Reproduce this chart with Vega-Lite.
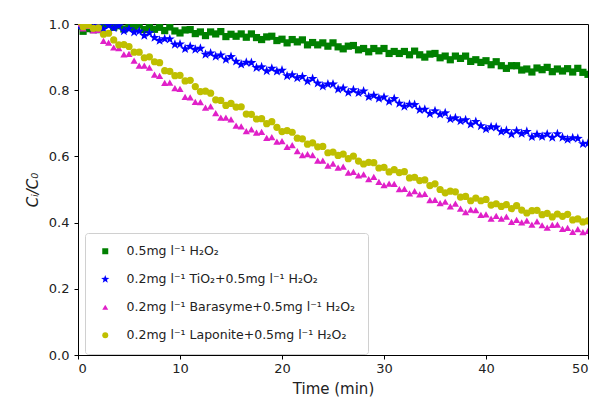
{
"$schema":"https://vega.github.io/schema/vega-lite/v6.json",
"width":510,"height":331,
"autosize":{"type":"none"},
"padding":{"left":78,"top":24,"right":7,"bottom":48},
"background":"white",
"config":{"view":{"stroke":"black","strokeWidth":1},"font":"DejaVu Sans",
"axis":{"grid":false,"domainColor":"black","tickColor":"black","labelColor":"#222","titleColor":"#222","labelFont":"DejaVu Sans","titleFont":"DejaVu Sans","titleFontWeight":"normal","labelFontSize":13,"titleFontSize":15,"tickSize":4},
"legend":{"title":null,"orient":"none","legendX":7,"legendY":209,"padding":12,"rowPadding":15,"symbolSize":36,"symbolOffset":2,"labelOffset":15,"labelFontSize":12.5,"labelFont":"DejaVu Sans","labelColor":"#222","strokeColor":"#d0d0d0","fillColor":"white","cornerRadius":3,"labelLimit":400}},
"data":{"values":[
{"t":0,"c":0.995,"s":"a"},{"t":0.5,"c":0.978,"s":"a"},{"t":1,"c":0.986,"s":"a"},{"t":1.5,"c":0.983,"s":"a"},{"t":2,"c":0.983,"s":"a"},{"t":2.5,"c":0.996,"s":"a"},{"t":3,"c":1.001,"s":"a"},{"t":3.5,"c":0.990,"s":"a"},{"t":4,"c":0.995,"s":"a"},{"t":4.5,"c":0.985,"s":"a"},{"t":5,"c":0.996,"s":"a"},{"t":5.5,"c":0.990,"s":"a"},{"t":6,"c":0.997,"s":"a"},{"t":6.5,"c":0.983,"s":"a"},{"t":7,"c":0.990,"s":"a"},{"t":7.5,"c":0.984,"s":"a"},{"t":8,"c":0.990,"s":"a"},{"t":8.5,"c":0.980,"s":"a"},{"t":9,"c":0.991,"s":"a"},{"t":9.5,"c":0.979,"s":"a"},{"t":10,"c":0.973,"s":"a"},{"t":10.5,"c":0.982,"s":"a"},{"t":11,"c":0.983,"s":"a"},{"t":11.5,"c":0.971,"s":"a"},{"t":12,"c":0.976,"s":"a"},{"t":12.5,"c":0.965,"s":"a"},{"t":13,"c":0.976,"s":"a"},{"t":13.5,"c":0.970,"s":"a"},{"t":14,"c":0.977,"s":"a"},{"t":14.5,"c":0.962,"s":"a"},{"t":15,"c":0.969,"s":"a"},{"t":15.5,"c":0.963,"s":"a"},{"t":16,"c":0.970,"s":"a"},{"t":16.5,"c":0.960,"s":"a"},{"t":17,"c":0.970,"s":"a"},{"t":17.5,"c":0.959,"s":"a"},{"t":18,"c":0.953,"s":"a"},{"t":18.5,"c":0.961,"s":"a"},{"t":19,"c":0.963,"s":"a"},{"t":19.5,"c":0.950,"s":"a"},{"t":20,"c":0.954,"s":"a"},{"t":20.5,"c":0.943,"s":"a"},{"t":21,"c":0.953,"s":"a"},{"t":21.5,"c":0.946,"s":"a"},{"t":22,"c":0.952,"s":"a"},{"t":22.5,"c":0.937,"s":"a"},{"t":23,"c":0.944,"s":"a"},{"t":23.5,"c":0.937,"s":"a"},{"t":24,"c":0.943,"s":"a"},{"t":24.5,"c":0.933,"s":"a"},{"t":25,"c":0.943,"s":"a"},{"t":25.5,"c":0.931,"s":"a"},{"t":26,"c":0.925,"s":"a"},{"t":26.5,"c":0.933,"s":"a"},{"t":27,"c":0.935,"s":"a"},{"t":27.5,"c":0.922,"s":"a"},{"t":28,"c":0.926,"s":"a"},{"t":28.5,"c":0.916,"s":"a"},{"t":29,"c":0.926,"s":"a"},{"t":29.5,"c":0.919,"s":"a"},{"t":30,"c":0.926,"s":"a"},{"t":30.5,"c":0.911,"s":"a"},{"t":31,"c":0.917,"s":"a"},{"t":31.5,"c":0.911,"s":"a"},{"t":32,"c":0.917,"s":"a"},{"t":32.5,"c":0.907,"s":"a"},{"t":33,"c":0.918,"s":"a"},{"t":33.5,"c":0.907,"s":"a"},{"t":34,"c":0.900,"s":"a"},{"t":34.5,"c":0.909,"s":"a"},{"t":35,"c":0.911,"s":"a"},{"t":35.5,"c":0.898,"s":"a"},{"t":36,"c":0.903,"s":"a"},{"t":36.5,"c":0.892,"s":"a"},{"t":37,"c":0.903,"s":"a"},{"t":37.5,"c":0.896,"s":"a"},{"t":38,"c":0.903,"s":"a"},{"t":38.5,"c":0.887,"s":"a"},{"t":39,"c":0.892,"s":"a"},{"t":39.5,"c":0.884,"s":"a"},{"t":40,"c":0.889,"s":"a"},{"t":40.5,"c":0.877,"s":"a"},{"t":41,"c":0.886,"s":"a"},{"t":41.5,"c":0.874,"s":"a"},{"t":42,"c":0.866,"s":"a"},{"t":42.5,"c":0.874,"s":"a"},{"t":43,"c":0.874,"s":"a"},{"t":43.5,"c":0.861,"s":"a"},{"t":44,"c":0.864,"s":"a"},{"t":44.5,"c":0.855,"s":"a"},{"t":45,"c":0.867,"s":"a"},{"t":45.5,"c":0.862,"s":"a"},{"t":46,"c":0.869,"s":"a"},{"t":46.5,"c":0.856,"s":"a"},{"t":47,"c":0.864,"s":"a"},{"t":47.5,"c":0.858,"s":"a"},{"t":48,"c":0.865,"s":"a"},{"t":48.5,"c":0.855,"s":"a"},{"t":49,"c":0.866,"s":"a"},{"t":49.5,"c":0.854,"s":"a"},{"t":50,"c":0.848,"s":"a"},
{"t":0,"c":0.993,"s":"b"},{"t":0.5,"c":1.002,"s":"b"},{"t":1,"c":1.004,"s":"b"},{"t":1.5,"c":0.992,"s":"b"},{"t":2,"c":0.996,"s":"b"},{"t":2.5,"c":0.985,"s":"b"},{"t":3,"c":0.995,"s":"b"},{"t":3.5,"c":0.988,"s":"b"},{"t":4,"c":0.994,"s":"b"},{"t":4.5,"c":0.979,"s":"b"},{"t":5,"c":0.985,"s":"b"},{"t":5.5,"c":0.975,"s":"b"},{"t":6,"c":0.978,"s":"b"},{"t":6.5,"c":0.965,"s":"b"},{"t":7,"c":0.973,"s":"b"},{"t":7.5,"c":0.959,"s":"b"},{"t":8,"c":0.950,"s":"b"},{"t":8.5,"c":0.955,"s":"b"},{"t":9,"c":0.954,"s":"b"},{"t":9.5,"c":0.938,"s":"b"},{"t":10,"c":0.939,"s":"b"},{"t":10.5,"c":0.925,"s":"b"},{"t":11,"c":0.932,"s":"b"},{"t":11.5,"c":0.923,"s":"b"},{"t":12,"c":0.926,"s":"b"},{"t":12.5,"c":0.908,"s":"b"},{"t":13,"c":0.912,"s":"b"},{"t":13.5,"c":0.902,"s":"b"},{"t":14,"c":0.906,"s":"b"},{"t":14.5,"c":0.893,"s":"b"},{"t":15,"c":0.901,"s":"b"},{"t":15.5,"c":0.887,"s":"b"},{"t":16,"c":0.878,"s":"b"},{"t":16.5,"c":0.884,"s":"b"},{"t":17,"c":0.883,"s":"b"},{"t":17.5,"c":0.868,"s":"b"},{"t":18,"c":0.870,"s":"b"},{"t":18.5,"c":0.858,"s":"b"},{"t":19,"c":0.866,"s":"b"},{"t":19.5,"c":0.857,"s":"b"},{"t":20,"c":0.860,"s":"b"},{"t":20.5,"c":0.843,"s":"b"},{"t":21,"c":0.846,"s":"b"},{"t":21.5,"c":0.837,"s":"b"},{"t":22,"c":0.841,"s":"b"},{"t":22.5,"c":0.827,"s":"b"},{"t":23,"c":0.835,"s":"b"},{"t":23.5,"c":0.821,"s":"b"},{"t":24,"c":0.812,"s":"b"},{"t":24.5,"c":0.818,"s":"b"},{"t":25,"c":0.818,"s":"b"},{"t":25.5,"c":0.803,"s":"b"},{"t":26,"c":0.806,"s":"b"},{"t":26.5,"c":0.793,"s":"b"},{"t":27,"c":0.801,"s":"b"},{"t":27.5,"c":0.792,"s":"b"},{"t":28,"c":0.797,"s":"b"},{"t":28.5,"c":0.780,"s":"b"},{"t":29,"c":0.784,"s":"b"},{"t":29.5,"c":0.775,"s":"b"},{"t":30,"c":0.779,"s":"b"},{"t":30.5,"c":0.766,"s":"b"},{"t":31,"c":0.774,"s":"b"},{"t":31.5,"c":0.760,"s":"b"},{"t":32,"c":0.751,"s":"b"},{"t":32.5,"c":0.757,"s":"b"},{"t":33,"c":0.756,"s":"b"},{"t":33.5,"c":0.741,"s":"b"},{"t":34,"c":0.742,"s":"b"},{"t":34.5,"c":0.729,"s":"b"},{"t":35,"c":0.737,"s":"b"},{"t":35.5,"c":0.727,"s":"b"},{"t":36,"c":0.731,"s":"b"},{"t":36.5,"c":0.713,"s":"b"},{"t":37,"c":0.716,"s":"b"},{"t":37.5,"c":0.707,"s":"b"},{"t":38,"c":0.710,"s":"b"},{"t":38.5,"c":0.697,"s":"b"},{"t":39,"c":0.705,"s":"b"},{"t":39.5,"c":0.692,"s":"b"},{"t":40,"c":0.683,"s":"b"},{"t":40.5,"c":0.689,"s":"b"},{"t":41,"c":0.688,"s":"b"},{"t":41.5,"c":0.675,"s":"b"},{"t":42,"c":0.678,"s":"b"},{"t":42.5,"c":0.667,"s":"b"},{"t":43,"c":0.677,"s":"b"},{"t":43.5,"c":0.669,"s":"b"},{"t":44,"c":0.675,"s":"b"},{"t":44.5,"c":0.659,"s":"b"},{"t":45,"c":0.666,"s":"b"},{"t":45.5,"c":0.660,"s":"b"},{"t":46,"c":0.667,"s":"b"},{"t":46.5,"c":0.657,"s":"b"},{"t":47,"c":0.668,"s":"b"},{"t":47.5,"c":0.657,"s":"b"},{"t":48,"c":0.651,"s":"b"},{"t":48.5,"c":0.656,"s":"b"},{"t":49,"c":0.654,"s":"b"},{"t":49.5,"c":0.638,"s":"b"},{"t":50,"c":0.639,"s":"b"},
{"t":0,"c":1.001,"s":"c"},{"t":0.5,"c":0.987,"s":"c"},{"t":1,"c":0.994,"s":"c"},{"t":1.5,"c":0.981,"s":"c"},{"t":2,"c":0.982,"s":"c"},{"t":2.5,"c":0.949,"s":"c"},{"t":3,"c":0.944,"s":"c"},{"t":3.5,"c":0.929,"s":"c"},{"t":4,"c":0.927,"s":"c"},{"t":4.5,"c":0.908,"s":"c"},{"t":5,"c":0.910,"s":"c"},{"t":5.5,"c":0.889,"s":"c"},{"t":6,"c":0.874,"s":"c"},{"t":6.5,"c":0.874,"s":"c"},{"t":7,"c":0.868,"s":"c"},{"t":7.5,"c":0.847,"s":"c"},{"t":8,"c":0.843,"s":"c"},{"t":8.5,"c":0.822,"s":"c"},{"t":9,"c":0.823,"s":"c"},{"t":9.5,"c":0.806,"s":"c"},{"t":10,"c":0.804,"s":"c"},{"t":10.5,"c":0.780,"s":"c"},{"t":11,"c":0.778,"s":"c"},{"t":11.5,"c":0.765,"s":"c"},{"t":12,"c":0.764,"s":"c"},{"t":12.5,"c":0.747,"s":"c"},{"t":13,"c":0.751,"s":"c"},{"t":13.5,"c":0.731,"s":"c"},{"t":14,"c":0.717,"s":"c"},{"t":14.5,"c":0.717,"s":"c"},{"t":15,"c":0.712,"s":"c"},{"t":15.5,"c":0.693,"s":"c"},{"t":16,"c":0.691,"s":"c"},{"t":16.5,"c":0.676,"s":"c"},{"t":17,"c":0.682,"s":"c"},{"t":17.5,"c":0.672,"s":"c"},{"t":18,"c":0.674,"s":"c"},{"t":18.5,"c":0.656,"s":"c"},{"t":19,"c":0.658,"s":"c"},{"t":19.5,"c":0.645,"s":"c"},{"t":20,"c":0.646,"s":"c"},{"t":20.5,"c":0.629,"s":"c"},{"t":21,"c":0.634,"s":"c"},{"t":21.5,"c":0.616,"s":"c"},{"t":22,"c":0.604,"s":"c"},{"t":22.5,"c":0.607,"s":"c"},{"t":23,"c":0.604,"s":"c"},{"t":23.5,"c":0.587,"s":"c"},{"t":24,"c":0.587,"s":"c"},{"t":24.5,"c":0.572,"s":"c"},{"t":25,"c":0.578,"s":"c"},{"t":25.5,"c":0.566,"s":"c"},{"t":26,"c":0.569,"s":"c"},{"t":26.5,"c":0.551,"s":"c"},{"t":27,"c":0.553,"s":"c"},{"t":27.5,"c":0.543,"s":"c"},{"t":28,"c":0.546,"s":"c"},{"t":28.5,"c":0.531,"s":"c"},{"t":29,"c":0.538,"s":"c"},{"t":29.5,"c":0.523,"s":"c"},{"t":30,"c":0.513,"s":"c"},{"t":30.5,"c":0.518,"s":"c"},{"t":31,"c":0.517,"s":"c"},{"t":31.5,"c":0.501,"s":"c"},{"t":32,"c":0.502,"s":"c"},{"t":32.5,"c":0.488,"s":"c"},{"t":33,"c":0.495,"s":"c"},{"t":33.5,"c":0.485,"s":"c"},{"t":34,"c":0.487,"s":"c"},{"t":34.5,"c":0.468,"s":"c"},{"t":35,"c":0.469,"s":"c"},{"t":35.5,"c":0.459,"s":"c"},{"t":36,"c":0.463,"s":"c"},{"t":36.5,"c":0.449,"s":"c"},{"t":37,"c":0.457,"s":"c"},{"t":37.5,"c":0.442,"s":"c"},{"t":38,"c":0.432,"s":"c"},{"t":38.5,"c":0.439,"s":"c"},{"t":39,"c":0.438,"s":"c"},{"t":39.5,"c":0.423,"s":"c"},{"t":40,"c":0.425,"s":"c"},{"t":40.5,"c":0.412,"s":"c"},{"t":41,"c":0.420,"s":"c"},{"t":41.5,"c":0.412,"s":"c"},{"t":42,"c":0.418,"s":"c"},{"t":42.5,"c":0.402,"s":"c"},{"t":43,"c":0.408,"s":"c"},{"t":43.5,"c":0.401,"s":"c"},{"t":44,"c":0.406,"s":"c"},{"t":44.5,"c":0.394,"s":"c"},{"t":45,"c":0.404,"s":"c"},{"t":45.5,"c":0.392,"s":"c"},{"t":46,"c":0.385,"s":"c"},{"t":46.5,"c":0.393,"s":"c"},{"t":47,"c":0.394,"s":"c"},{"t":47.5,"c":0.381,"s":"c"},{"t":48,"c":0.384,"s":"c"},{"t":48.5,"c":0.372,"s":"c"},{"t":49,"c":0.380,"s":"c"},{"t":49.5,"c":0.371,"s":"c"},{"t":50,"c":0.375,"s":"c"},
{"t":0,"c":1.007,"s":"d"},{"t":0.5,"c":0.992,"s":"d"},{"t":1,"c":0.997,"s":"d"},{"t":1.5,"c":0.987,"s":"d"},{"t":2,"c":0.988,"s":"d"},{"t":2.5,"c":0.969,"s":"d"},{"t":3,"c":0.972,"s":"d"},{"t":3.5,"c":0.952,"s":"d"},{"t":4,"c":0.937,"s":"d"},{"t":4.5,"c":0.938,"s":"d"},{"t":5,"c":0.932,"s":"d"},{"t":5.5,"c":0.915,"s":"d"},{"t":6,"c":0.915,"s":"d"},{"t":6.5,"c":0.898,"s":"d"},{"t":7,"c":0.901,"s":"d"},{"t":7.5,"c":0.886,"s":"d"},{"t":8,"c":0.883,"s":"d"},{"t":8.5,"c":0.859,"s":"d"},{"t":9,"c":0.857,"s":"d"},{"t":9.5,"c":0.844,"s":"d"},{"t":10,"c":0.845,"s":"d"},{"t":10.5,"c":0.828,"s":"d"},{"t":11,"c":0.830,"s":"d"},{"t":11.5,"c":0.811,"s":"d"},{"t":12,"c":0.796,"s":"d"},{"t":12.5,"c":0.797,"s":"d"},{"t":13,"c":0.791,"s":"d"},{"t":13.5,"c":0.771,"s":"d"},{"t":14,"c":0.769,"s":"d"},{"t":14.5,"c":0.754,"s":"d"},{"t":15,"c":0.760,"s":"d"},{"t":15.5,"c":0.749,"s":"d"},{"t":16,"c":0.750,"s":"d"},{"t":16.5,"c":0.728,"s":"d"},{"t":17,"c":0.727,"s":"d"},{"t":17.5,"c":0.713,"s":"d"},{"t":18,"c":0.714,"s":"d"},{"t":18.5,"c":0.699,"s":"d"},{"t":19,"c":0.705,"s":"d"},{"t":19.5,"c":0.688,"s":"d"},{"t":20,"c":0.675,"s":"d"},{"t":20.5,"c":0.678,"s":"d"},{"t":21,"c":0.673,"s":"d"},{"t":21.5,"c":0.655,"s":"d"},{"t":22,"c":0.653,"s":"d"},{"t":22.5,"c":0.637,"s":"d"},{"t":23,"c":0.641,"s":"d"},{"t":23.5,"c":0.629,"s":"d"},{"t":24,"c":0.630,"s":"d"},{"t":24.5,"c":0.611,"s":"d"},{"t":25,"c":0.613,"s":"d"},{"t":25.5,"c":0.603,"s":"d"},{"t":26,"c":0.607,"s":"d"},{"t":26.5,"c":0.593,"s":"d"},{"t":27,"c":0.601,"s":"d"},{"t":27.5,"c":0.586,"s":"d"},{"t":28,"c":0.577,"s":"d"},{"t":28.5,"c":0.582,"s":"d"},{"t":29,"c":0.581,"s":"d"},{"t":29.5,"c":0.565,"s":"d"},{"t":30,"c":0.567,"s":"d"},{"t":30.5,"c":0.553,"s":"d"},{"t":31,"c":0.560,"s":"d"},{"t":31.5,"c":0.551,"s":"d"},{"t":32,"c":0.554,"s":"d"},{"t":32.5,"c":0.535,"s":"d"},{"t":33,"c":0.537,"s":"d"},{"t":33.5,"c":0.527,"s":"d"},{"t":34,"c":0.529,"s":"d"},{"t":34.5,"c":0.512,"s":"d"},{"t":35,"c":0.517,"s":"d"},{"t":35.5,"c":0.500,"s":"d"},{"t":36,"c":0.490,"s":"d"},{"t":36.5,"c":0.495,"s":"d"},{"t":37,"c":0.493,"s":"d"},{"t":37.5,"c":0.477,"s":"d"},{"t":38,"c":0.479,"s":"d"},{"t":38.5,"c":0.466,"s":"d"},{"t":39,"c":0.474,"s":"d"},{"t":39.5,"c":0.466,"s":"d"},{"t":40,"c":0.470,"s":"d"},{"t":40.5,"c":0.453,"s":"d"},{"t":41,"c":0.457,"s":"d"},{"t":41.5,"c":0.449,"s":"d"},{"t":42,"c":0.454,"s":"d"},{"t":42.5,"c":0.442,"s":"d"},{"t":43,"c":0.451,"s":"d"},{"t":43.5,"c":0.438,"s":"d"},{"t":44,"c":0.429,"s":"d"},{"t":44.5,"c":0.436,"s":"d"},{"t":45,"c":0.437,"s":"d"},{"t":45.5,"c":0.424,"s":"d"},{"t":46,"c":0.428,"s":"d"},{"t":46.5,"c":0.417,"s":"d"},{"t":47,"c":0.426,"s":"d"},{"t":47.5,"c":0.419,"s":"d"},{"t":48,"c":0.425,"s":"d"},{"t":48.5,"c":0.408,"s":"d"},{"t":49,"c":0.411,"s":"d"},{"t":49.5,"c":0.402,"s":"d"},{"t":50,"c":0.405,"s":"d"}
]},
"mark":{"type":"point","filled":true,"opacity":1,"clip":true,"strokeWidth":0,"size":52},
"encoding":{
"x":{"field":"t","type":"quantitative","title":"Time (min)","scale":{"domain":[0,50],"nice":false},"axis":{"values":[0,10,20,30,40,50],"labelPadding":3,"titlePadding":6}},
"y":{"field":"c","type":"quantitative","title":"Cᵢ/C₀","scale":{"domain":[0,1],"nice":false},"axis":{"values":[0,0.2,0.4,0.6,0.8,1.0],"format":".1f","labelPadding":5,"titlePadding":8,"titleFontStyle":"italic"}},
"color":{"field":"s","type":"nominal","scale":{"domain":["a","b","c","d"],"range":["#008000","#0000ff","#e020c8","#bfbf00"]},
"legend":{"labelExpr":"datum.label == 'a' ? '0.5mg l⁻¹ H₂O₂' : datum.label == 'b' ? '0.2mg l⁻¹ TiO₂+0.5mg l⁻¹ H₂O₂' : datum.label == 'c' ? '0.2mg l⁻¹ Barasyme+0.5mg l⁻¹ H₂O₂' : '0.2mg l⁻¹ Laponite+0.5mg l⁻¹ H₂O₂'"}},
"shape":{"field":"s","type":"nominal","scale":{"domain":["a","b","c","d"],"range":["square","M0,-1.45L0.34,-0.47L1.38,-0.45L0.55,0.18L0.85,1.17L0,0.58L-0.85,1.17L-0.55,0.18L-1.38,-0.45L-0.34,-0.47Z","triangle-up","circle"]},
"legend":{"labelExpr":"datum.label == 'a' ? '0.5mg l⁻¹ H₂O₂' : datum.label == 'b' ? '0.2mg l⁻¹ TiO₂+0.5mg l⁻¹ H₂O₂' : datum.label == 'c' ? '0.2mg l⁻¹ Barasyme+0.5mg l⁻¹ H₂O₂' : '0.2mg l⁻¹ Laponite+0.5mg l⁻¹ H₂O₂'"}}
}
}
